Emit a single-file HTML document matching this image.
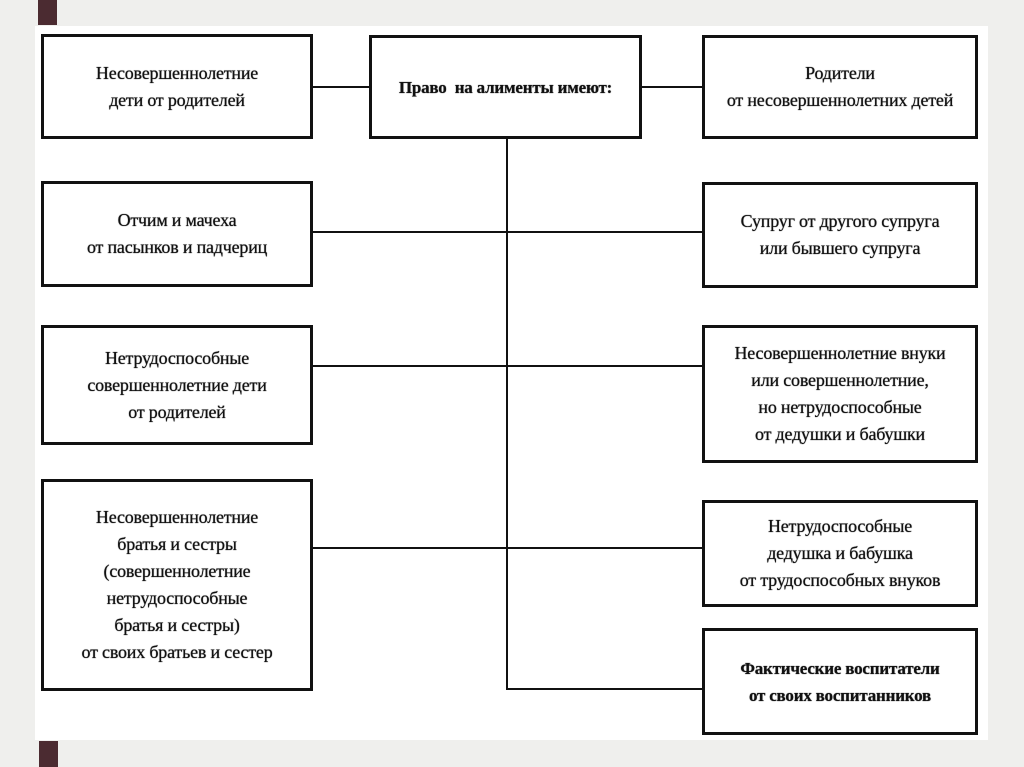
<!DOCTYPE html>
<html><head><meta charset="utf-8"><style>
body{margin:0;width:1024px;height:767px;background:#efefed;position:relative;overflow:hidden;font-family:"Liberation Serif",serif}
.w{position:absolute;left:35px;top:26px;width:953px;height:714px;background:#fff}
.sq{position:absolute;background:#4b2b31;width:19px}
.b{position:absolute;border:3px solid #111;box-sizing:border-box;display:flex;align-items:center;justify-content:center;text-align:center;font-size:18px;line-height:27px;color:#111;text-shadow:0 0 .8px #000;letter-spacing:-0.2px}
.h{position:absolute;height:2px;background:#111}
.v{position:absolute;width:2px;background:#111}
</style></head><body>
<div class="w"></div>
<div class="sq" style="left:38px;top:0;height:25px"></div>
<div class="sq" style="left:39px;top:741px;height:26px"></div>
<div class="v" style="left:506px;top:138px;height:552px"></div>
<div class="h" style="left:312px;top:86px;width:58px"></div>
<div class="h" style="left:641px;top:86px;width:62px"></div>
<div class="h" style="left:312px;top:231px;width:391px"></div>
<div class="h" style="left:312px;top:365px;width:391px"></div>
<div class="h" style="left:312px;top:547px;width:391px"></div>
<div class="h" style="left:506px;top:688px;width:197px"></div>
<div class="b" style="left:41px;top:34px;width:272px;height:105px">Несовершеннолетние<br>дети от родителей</div>
<div class="b" style="left:369px;top:35px;width:273px;height:104px;font-weight:bold;font-size:17px">Право&nbsp; на алименты имеют:</div>
<div class="b" style="left:702px;top:35px;width:276px;height:104px">Родители<br>от несовершеннолетних детей</div>
<div class="b" style="left:41px;top:181px;width:272px;height:106px">Отчим и мачеха<br>от пасынков и падчериц</div>
<div class="b" style="left:702px;top:182px;width:276px;height:106px">Супруг от другого супруга<br>или бывшего супруга</div>
<div class="b" style="left:41px;top:325px;width:272px;height:120px">Нетрудоспособные<br>совершеннолетние дети<br>от родителей</div>
<div class="b" style="left:702px;top:325px;width:276px;height:138px">Несовершеннолетние внуки<br>или совершеннолетние,<br>но нетрудоспособные<br>от дедушки и бабушки</div>
<div class="b" style="left:41px;top:479px;width:272px;height:212px">Несовершеннолетние<br>братья и сестры<br>(совершеннолетние<br>нетрудоспособные<br>братья и сестры)<br>от своих братьев и сестер</div>
<div class="b" style="left:702px;top:500px;width:276px;height:107px">Нетрудоспособные<br>дедушка и бабушка<br>от трудоспособных внуков</div>
<div class="b" style="left:702px;top:628px;width:276px;height:107px;font-weight:bold;font-size:17px">Фактические воспитатели<br>от своих воспитанников</div>
</body></html>
